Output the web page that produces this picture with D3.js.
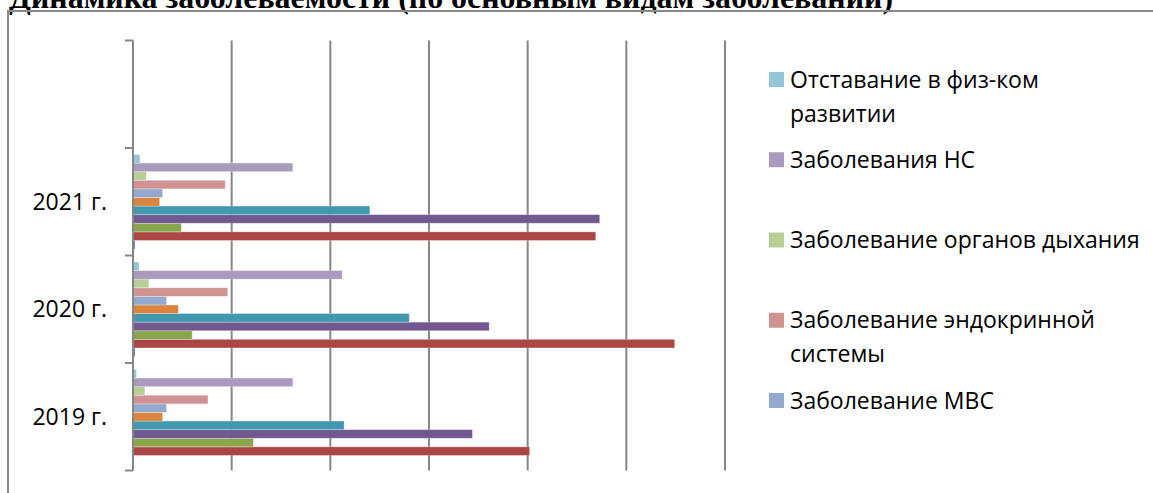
<!DOCTYPE html>
<html>
<head>
<meta charset="utf-8">
<script src="https://cdn.jsdelivr.net/npm/d3@7"></script>
<style>
  body { margin: 0; background: #fff; }
  svg { display: block; }
</style>
</head>
<body>
<svg id="chart" width="1153" height="493"></svg>
<script>
// categories, top to bottom (the top one is empty in the source sheet)
var categories = ["", "2021 г.", "2020 г.", "2019 г."];

// series in sheet order (first one is drawn lowest in each group)
var seriesNames = [
  "Ряд 1", "Ряд 2", "Ряд 3", "Ряд 4", "Ряд 5", "Ряд 6",
  "Заболевание МВС",
  "Заболевание эндокринной системы",
  "Заболевание органов дыхания",
  "Заболевания НС",
  "Отставание в физ-ком развитии"
];
var seriesColors = [
  "#4572A7", "#AA4643", "#89A54E", "#71588F", "#4198AF", "#DB843D",
  "#93A9CF", "#D19392", "#B9CD96", "#A99BBD", "#92C5D6"
];

// values per category, same order as seriesNames
var values2019 = [0, 40.2, 12.2, 34.4, 21.4, 3.0, 3.4, 7.6, 1.2, 16.2, 0.35];
var values2020 = [0.2, 54.9, 6.0, 36.1, 28.0, 4.6, 3.4, 9.6, 1.6, 21.2, 0.6];
var values2021 = [0.2, 46.9, 4.9, 47.3, 24.0, 2.7, 3.0, 9.35, 1.35, 16.2, 0.7];

var xTicks = [0, 10, 20, 30, 40, 50, 60];

// legend only shows the last five series (reversed), as in the original
var legendItems = [
  ["Отставание в физ-ком", "развитии"],
  ["Заболевания НС"],
  ["Заболевание органов дыхания"],
  ["Заболевание эндокринной", "системы"],
  ["Заболевание МВС"]
];
var legendColors = ["#92C5D6", "#A99BBD", "#B9CD96", "#D19392", "#93A9CF"];

var title = "Динамика заболеваемости (по основным видам заболеваний)";

var data = {
  "2019 г.": values2019,
  "2020 г.": values2020,
  "2021 г.": values2021
};

var svg = d3.select("#chart");
var font = "'Open Sans', 'Noto Sans', sans-serif";

// title, cut by the top of the picture like in the source
svg.append("text")
  .attr("x", 9)
  .attr("y", 8)
  .attr("font-family", "'Liberation Serif', 'Times New Roman', serif")
  .attr("font-weight", "bold")
  .attr("font-size", 31.9)
  .attr("fill", "#000")
  .text(title);

// chart frame (only top and left are inside the picture)
svg.append("path")
  .attr("d", "M8,493 L8,11 L1153,11")
  .attr("fill", "none")
  .attr("stroke", "#8a8a8a")
  .attr("stroke-width", 2);

var x = d3.scaleLinear()
  .domain([0, 60])
  .range([133, 725]);

var y0 = d3.scaleBand()
  .domain(categories)
  .range([40.5, 470.5])
  .padding(0);

// top-to-bottom order inside a group is the reverse of the sheet order
var y1 = d3.scaleBand()
  .domain(d3.range(seriesNames.length).reverse())
  .range([0, y0.bandwidth()])
  .paddingInner(0)
  .paddingOuter(0.75);

var yTop = y0.range()[0], yBot = y0.range()[1];

// vertical gridlines
svg.append("g")
  .selectAll("line")
  .data(xTicks.slice(1))
  .join("line")
  .attr("x1", d => x(d))
  .attr("x2", d => x(d))
  .attr("y1", yTop)
  .attr("y2", yBot)
  .attr("stroke", "#878787")
  .attr("stroke-width", 2);

// bars
var groups = svg.append("g")
  .selectAll("g")
  .data(categories.filter(c => data[c]))
  .join("g")
  .attr("transform", c => "translate(0," + y0(c) + ")");

groups.selectAll("rect")
  .data(c => data[c].map((v, i) => ({i: i, v: v})))
  .join("rect")
  .attr("x", x(0))
  .attr("y", d => y1(d.i))
  .attr("width", d => x(d.v) - x(0))
  .attr("height", y1.bandwidth())
  .attr("fill", d => seriesColors[d.i])
  .attr("stroke", "rgba(255,255,255,0.35)")
  .attr("stroke-width", 0.8);

// category axis
svg.append("line")
  .attr("x1", x(0)).attr("x2", x(0))
  .attr("y1", yTop).attr("y2", yBot)
  .attr("stroke", "#878787")
  .attr("stroke-width", 2);

var edges = categories.map(c => y0(c)).concat([yBot]);
svg.append("g")
  .selectAll("line")
  .data(edges)
  .join("line")
  .attr("x1", x(0) - 8)
  .attr("x2", x(0))
  .attr("y1", d => d)
  .attr("y2", d => d)
  .attr("stroke", "#878787")
  .attr("stroke-width", 2);

svg.append("g")
  .selectAll("text")
  .data(categories)
  .join("text")
  .attr("x", 107)
  .attr("y", c => y0(c) + y0.bandwidth() / 2)
  .attr("dy", "0.35em")
  .attr("text-anchor", "end")
  .attr("font-family", font)
  .attr("font-size", 23)
  .attr("fill", "#000")
  .text(c => c);

// legend
var ly = d3.scaleLinear().domain([0, 4]).range([79.5, 400.5]);
var legend = svg.append("g")
  .selectAll("g")
  .data(legendItems)
  .join("g")
  .attr("transform", (d, i) => "translate(769," + ly(i) + ")");

legend.append("rect")
  .attr("x", 0)
  .attr("y", -7.5)
  .attr("width", 15)
  .attr("height", 15)
  .attr("fill", (d, i) => legendColors[i]);

legend.append("text")
  .attr("font-family", font)
  .attr("font-size", 23)
  .attr("fill", "#000")
  .selectAll("tspan")
  .data(d => d)
  .join("tspan")
  .attr("x", 21)
  .attr("y", (d, j) => j * 34)
  .attr("dy", "0.35em")
  .text(d => d);
</script>
</body>
</html>
